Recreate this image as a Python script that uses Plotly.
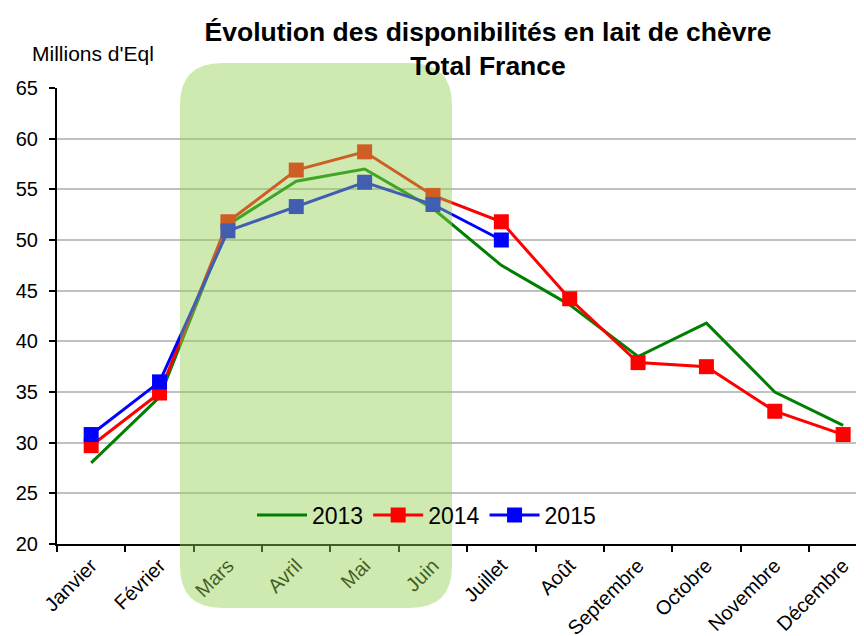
import plotly.graph_objects as go

months = ["Janvier", "Février", "Mars", "Avril", "Mai", "Juin", "Juillet",
          "Août", "Septembre", "Octobre", "Novembre", "Décembre"]
v2013 = [28.0, 34.5, 51.5, 55.8, 57.0, 53.1, 47.5, 43.6, 38.5, 41.8, 35.0, 31.7]
v2014 = [29.7, 34.9, 51.8, 56.9, 58.7, 54.4, 51.8, 44.2, 37.9, 37.5, 33.1, 30.8]
v2015 = [30.8, 36.0, 50.9, 53.3, 55.7, 53.5, 50.0]

# the page body has an 8px margin: lay out in window pixels, then offset
OX, OY = 8, 8
W, H = 864 - OX, 636 - OY
ml, mr, mt, mb = 57 - OX, 0, 88 - OY, 92
pw, ph = W - ml - mr, H - mt - mb

fig = go.Figure()
fig.add_trace(go.Scatter(x=months, y=v2013, name="2013", mode="lines",
                         line=dict(color="#008000", width=3)))
fig.add_trace(go.Scatter(x=months, y=v2014, name="2014", mode="lines+markers",
                         line=dict(color="#ff0000", width=3),
                         marker=dict(symbol="square", size=15, color="#ff0000")))
fig.add_trace(go.Scatter(x=months[:len(v2015)], y=v2015, name="2015", mode="lines+markers",
                         line=dict(color="#0000ff", width=3),
                         marker=dict(symbol="square", size=15, color="#0000ff")))

# window pixel coords -> paper coords
def px(xp):
    return (xp - OX - ml) / pw

def py(yp):
    return (H - mb - (yp - OY)) / ph

x0, x1, y0, y1, r = 180, 452, 63, 608, 42
path = (f"M {px(x0 + r)},{py(y0)} L {px(x1 - r)},{py(y0)} "
        f"Q {px(x1)},{py(y0)} {px(x1)},{py(y0 + r)} "
        f"L {px(x1)},{py(y1 - r)} Q {px(x1)},{py(y1)} {px(x1 - r)},{py(y1)} "
        f"L {px(x0 + r)},{py(y1)} Q {px(x0)},{py(y1)} {px(x0)},{py(y1 - r)} "
        f"L {px(x0)},{py(y0 + r)} Q {px(x0)},{py(y0)} {px(x0 + r)},{py(y0)} Z")
fig.add_shape(type="path", path=path, xref="paper", yref="paper",
              fillcolor="rgba(146,208,80,0.45)", line=dict(width=0), layer="above")

fig.update_layout(
    width=W, height=H,
    margin=dict(l=ml, r=mr, t=mt, b=mb, autoexpand=False),
    paper_bgcolor="white", plot_bgcolor="white",
    font=dict(family="Liberation Sans, Arial, sans-serif", color="black"),
    title=dict(text="<b>Évolution des disponibilités en lait de chèvre<br>Total France</b>",
               x=(488 - OX) / W, xanchor="center", y=1 - (41 - OY) / H, yanchor="middle",
               font=dict(size=26.5, color="black")),
    showlegend=True,
    legend=dict(orientation="h", x=px(252), xanchor="left", y=py(515), yanchor="middle",
                bgcolor="rgba(0,0,0,0)", font=dict(size=23, color="black"),
                itemwidth=50),
    xaxis=dict(type="category", range=[-0.5, -0.5 + pw / 68.36],
               tickangle=-45, tickfont=dict(size=20), automargin=False,
               showgrid=False, showline=True, linecolor="black", linewidth=2,
               ticks="outside", tickson="boundaries", ticklen=6, tickcolor="black",
               tickwidth=2, zeroline=False),
    yaxis=dict(range=[20, 65], dtick=5, tickfont=dict(size=20), automargin=False,
               showgrid=True, gridcolor="#c0c0c0", gridwidth=2,
               showline=True, linecolor="black", linewidth=2,
               ticks="outside", ticklen=6, tickcolor="black", tickwidth=2,
               ticklabelstandoff=7, zeroline=False),
    annotations=[dict(text="Millions d'Eql", xref="paper", yref="paper",
                      x=px(30), y=py(53), xanchor="left", yanchor="middle",
                      showarrow=False, font=dict(size=21, color="black"))],
)

fig.write_html("out.html")
